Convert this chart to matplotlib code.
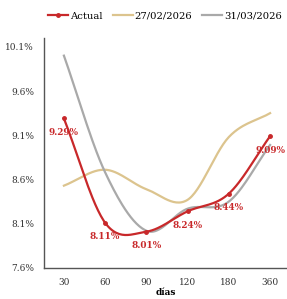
import matplotlib
matplotlib.use('Agg')
from matplotlib import pyplot as plt
import numpy as np

plt.rcParams['font.family'] = ['DejaVu Serif']

plazos = ['30', '60', '90', '120', '180', '360']
actual = [9.29, 8.11, 8.01, 8.24, 8.44, 9.09]
feb = [8.53, 8.71, 8.49, 8.37, 9.08, 9.35]
mar = [10.00, 8.68, 8.02, 8.27, 8.35, 8.99]
y_ticks = [7.6, 8.1, 8.6, 9.1, 9.6, 10.1]


def suave(x, y, n=30, t=0.5):
    # cardinal spline through the points
    x = np.asarray(x, float)
    y = np.asarray(y, float)
    xs, ys = [], []
    for i in range(len(x) - 1):
        m0 = (y[i + 1] - y[i - 1]) / (x[i + 1] - x[i - 1]) if i > 0 else (y[1] - y[0]) / (x[1] - x[0])
        m1 = (y[i + 2] - y[i]) / (x[i + 2] - x[i]) if i < len(x) - 2 else (y[-1] - y[-2]) / (x[-1] - x[-2])
        m0 *= 2 * t
        m1 *= 2 * t
        h = x[i + 1] - x[i]
        s = np.linspace(0, 1, n)
        h00 = 2 * s**3 - 3 * s**2 + 1
        h10 = s**3 - 2 * s**2 + s
        h01 = -2 * s**3 + 3 * s**2
        h11 = s**3 - s**2
        xs.append(x[i] + s * h)
        ys.append(h00 * y[i] + h10 * h * m0 + h01 * y[i + 1] + h11 * h * m1)
    return np.concatenate(xs), np.concatenate(ys)


idx = np.arange(len(plazos))
rojo = '#C8282A'
tan = '#DCC48E'
gris = '#A9A9A9'

fig = plt.figure(figsize=(2.87, 2.99), dpi=100)
ax = fig.add_axes([0.153, 0.104, 0.847, 0.769])

xs, ys = suave(idx, feb)
ax.plot(xs, ys, color=tan, lw=1.6, label='27/02/2026')
xs, ys = suave(idx, mar)
ax.plot(xs, ys, color=gris, lw=1.6, label='31/03/2026')
xs, ys = suave(idx, actual)
ax.plot(xs, ys, color=rojo, lw=1.6, zorder=3)
ax.plot(idx, actual, 'o', color=rojo, ms=2.5, zorder=4)
l_act, = ax.plot([], [], color=rojo, lw=1.6, marker='o', ms=2.5, label='Actual')

for i, v in zip(idx, actual):
    ax.annotate(f'{v:.2f}%', (i, v), xytext=(0, -14), textcoords='offset pixels',
                ha='center', va='center', fontsize=6.4, color=rojo, fontweight='semibold')

ax.set_xlim(-0.485, 5.41)
ax.set_ylim(7.6, 10.2)
ax.set_xticks(idx)
ax.set_xticklabels(plazos)
ax.set_yticks(y_ticks)
ax.set_yticklabels([f'{v:.1f}%' for v in y_ticks])
ax.tick_params(length=0, labelsize=6.5, colors='#333333', pad=7)
ax.set_xlabel('días', fontsize=6.5, fontweight='bold', labelpad=1)
for s in ['top', 'right']:
    ax.spines[s].set_visible(False)
for s in ['left', 'bottom']:
    ax.spines[s].set_color('#555555')
    ax.spines[s].set_linewidth(1)

h, l = ax.get_legend_handles_labels()
orden = [2, 0, 1]
fig.legend([h[k] for k in orden], [l[k] for k in orden], loc='center',
           bbox_to_anchor=(0.575, 0.945), ncol=3, frameon=False, fontsize=7.2,
           handlelength=2.0, columnspacing=1.0, handletextpad=0.2)

fig.savefig('out.png', dpi=100)
